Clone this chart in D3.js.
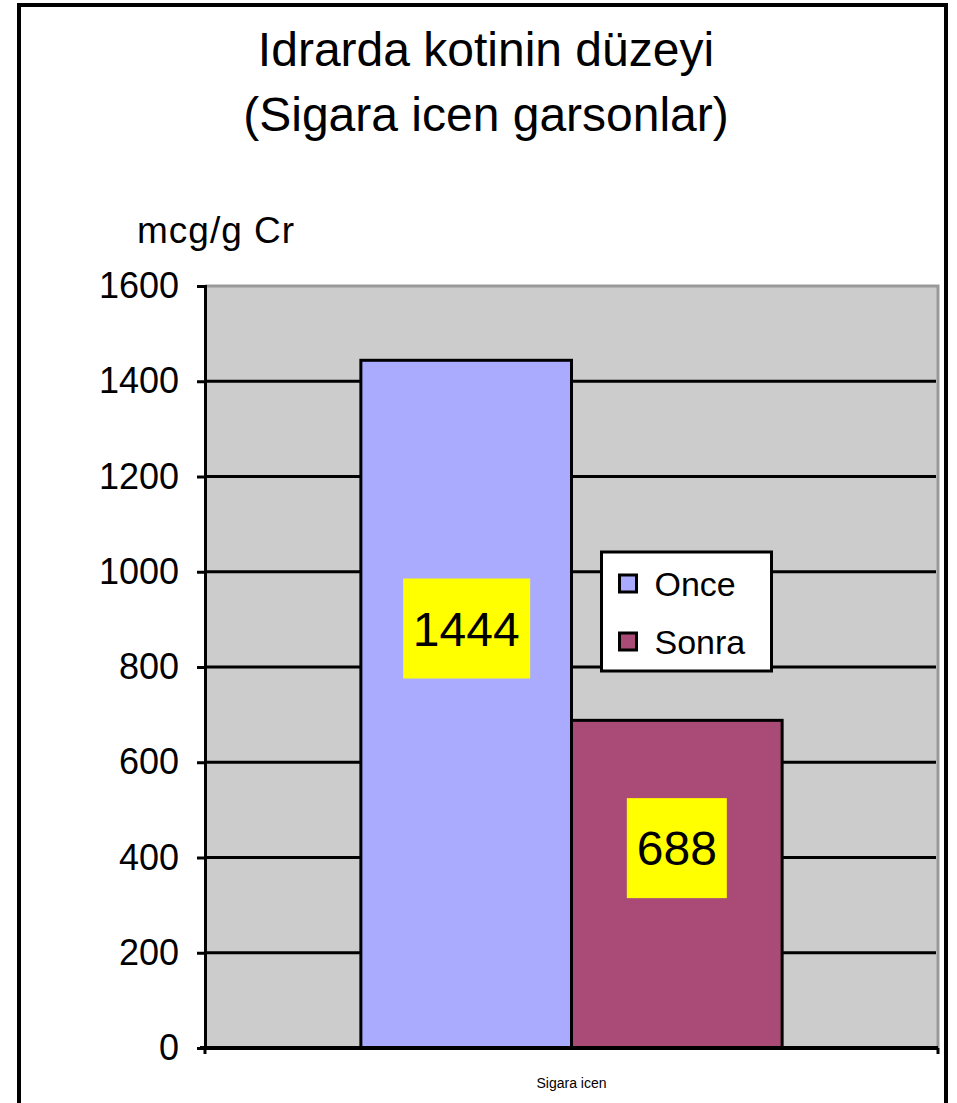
<!DOCTYPE html>
<html>
<head>
<meta charset="utf-8">
<script src="https://cdn.jsdelivr.net/npm/d3@7"></script>
<style>
  body { margin: 0; background: #fff; }
  svg text { font-family: "Liberation Sans", Arial, sans-serif; fill: #000; }
</style>
</head>
<body>
<div id="chart"></div>
<script>
"use strict";

// data
var titleLines = ["Idrarda kotinin düzeyi", "(Sigara icen garsonlar)"];
var unitLabel = "mcg/g Cr";
var categories = ["Sigara icen"];
var seriesNames = ["Once", "Sonra"];
var seriesValues = [1444, 688];
var seriesColors = ["#aaaaff", "#aa4a77"];
var yTicks = [0, 200, 400, 600, 800, 1000, 1200, 1400, 1600];

var W = 957, H = 1103;
var margin = { top: 286, right: 19, bottom: 55, left: 205 };
var width = W - margin.left - margin.right;
var height = H - margin.top - margin.bottom;

var root = d3.select("#chart")
    .append("svg")
    .attr("width", W)
    .attr("height", H);

// outer frame
root.append("rect")
    .attr("x", 19)
    .attr("y", 5)
    .attr("width", 927)
    .attr("height", H + 10)
    .attr("fill", "#fff")
    .attr("stroke", "#000")
    .attr("stroke-width", 4);

// title
root.selectAll(".title")
    .data(titleLines)
    .join("text")
    .attr("class", "title")
    .attr("x", 486)
    .attr("y", (d, i) => 66 + i * 65)
    .attr("text-anchor", "middle")
    .style("font-size", "48px")
    .text(d => d);

root.append("text")
    .attr("x", 137)
    .attr("y", 243)
    .style("font-size", "37px")
    .style("letter-spacing", "1px")
    .text(unitLabel);

var svg = root.append("g")
    .attr("transform", `translate(${margin.left},${margin.top})`);

// scales
var x0 = d3.scaleBand()
    .domain(categories)
    .range([0, width])
    .paddingInner(0)
    .paddingOuter(0.37);

var x1 = d3.scaleBand()
    .domain(seriesNames)
    .range([0, x0.bandwidth()]);

var y = d3.scaleLinear()
    .domain([0, 1600])
    .range([height, 0]);

// plot background
svg.append("rect")
    .attr("width", width)
    .attr("height", height)
    .attr("fill", "#cccccc");

// gray frame top + right
svg.append("path")
    .attr("d", `M0,0 H${width} V${height}`)
    .attr("fill", "none")
    .attr("stroke", "#999")
    .attr("stroke-width", 3);

// gridlines
svg.selectAll(".grid")
    .data(yTicks.filter(d => d > 0 && d < 1600))
    .join("line")
    .attr("class", "grid")
    .attr("x1", 0)
    .attr("x2", width - 2)
    .attr("y1", d => y(d))
    .attr("y2", d => y(d))
    .attr("stroke", "#000")
    .attr("stroke-width", 3);

// bars
var bars = seriesNames.map((s, i) => ({ cat: categories[0], name: s, value: seriesValues[i], color: seriesColors[i] }));

svg.selectAll(".bar")
    .data(bars)
    .join("rect")
    .attr("class", "bar")
    .attr("x", d => x0(d.cat) + x1(d.name))
    .attr("y", d => y(d.value))
    .attr("width", x1.bandwidth())
    .attr("height", d => height - y(d.value))
    .attr("fill", d => d.color)
    .attr("stroke", "#000")
    .attr("stroke-width", 3);

// axes
var yAxis = svg.append("g")
    .call(d3.axisLeft(y).tickValues(yTicks).tickFormat(d3.format("d")).tickSize(8).tickPadding(18));
yAxis.select(".domain").attr("stroke-width", 3);
yAxis.selectAll(".tick line").attr("stroke-width", 3);
yAxis.selectAll("text")
    .style("font-size", "36px")
    .style("font-family", "Liberation Sans, Arial, sans-serif");

svg.append("line")
    .attr("x1", -5)
    .attr("x2", width)
    .attr("y1", height)
    .attr("y2", height)
    .attr("stroke", "#000")
    .attr("stroke-width", 4);

svg.selectAll(".xtick")
    .data([0, width])
    .join("line")
    .attr("class", "xtick")
    .attr("x1", d => d)
    .attr("x2", d => d)
    .attr("y1", height)
    .attr("y2", height + 6)
    .attr("stroke", "#000")
    .attr("stroke-width", 3);

svg.selectAll(".xlabel")
    .data(categories)
    .join("text")
    .attr("class", "xlabel")
    .attr("x", d => x0(d) + x0.bandwidth() / 2)
    .attr("y", height + 40)
    .attr("text-anchor", "middle")
    .style("font-size", "14px")
    .text(d => d);

// data labels (yellow boxes)
var labels = svg.selectAll(".dlabel")
    .data(bars)
    .join("g")
    .attr("class", "dlabel")
    .attr("transform", d => `translate(${x0(d.cat) + x1(d.name) + x1.bandwidth() / 2},${y(d.value * 0.61)})`);

labels.append("rect")
    .attr("x", d => d.value > 1000 ? -63 : -50)
    .attr("y", -50)
    .attr("width", d => d.value > 1000 ? 127 : 100)
    .attr("height", 100)
    .attr("fill", "#ffff00");

labels.append("text")
    .attr("text-anchor", "middle")
    .attr("dy", "0.36em")
    .style("font-size", "48px")
    .text(d => d.value);

// legend
var legend = svg.append("g")
    .attr("transform", `translate(${x0(categories[0]) + x1("Sonra") + 30},266)`);

legend.append("rect")
    .attr("width", 170)
    .attr("height", 119)
    .attr("fill", "#fff")
    .attr("stroke", "#000")
    .attr("stroke-width", 3);

var items = legend.selectAll(".item")
    .data(bars)
    .join("g")
    .attr("class", "item")
    .attr("transform", (d, i) => `translate(18,${23 + i * 58})`);

items.append("rect")
    .attr("width", 17)
    .attr("height", 17)
    .attr("fill", d => d.color)
    .attr("stroke", "#000")
    .attr("stroke-width", 3);

items.append("text")
    .attr("x", 35)
    .attr("y", 9)
    .attr("dy", "0.36em")
    .style("font-size", "34px")
    .text(d => d.name);
</script>
</body>
</html>
